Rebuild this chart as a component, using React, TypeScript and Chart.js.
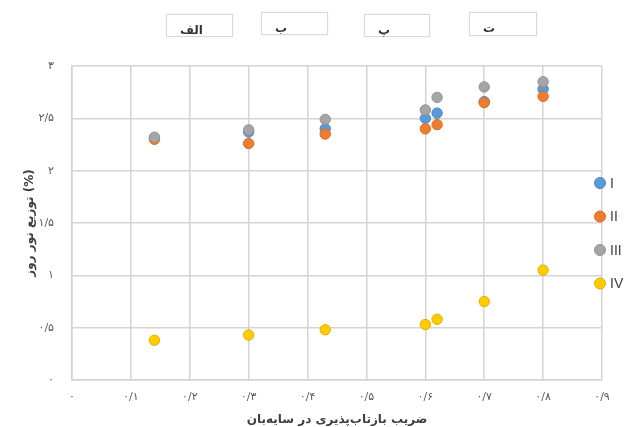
import React, { useEffect, useRef } from "react";
import { Chart, registerables } from "chart.js";

Chart.register(...registerables);

// ---- data ----
const xValues = [0.14, 0.3, 0.43, 0.6, 0.62, 0.7, 0.8];
const seriesI = [2.31, 2.37, 2.4, 2.5, 2.55, 2.66, 2.78];
const seriesII = [2.3, 2.26, 2.35, 2.4, 2.44, 2.65, 2.71];
const seriesIII = [2.32, 2.39, 2.49, 2.58, 2.7, 2.8, 2.85];
const seriesIV = [0.38, 0.43, 0.48, 0.53, 0.58, 0.75, 1.05];
const seriesNames = ["I", "II", "III", "IV"];

const xTickLabels = ["۰", "۰/۱", "۰/۲", "۰/۳", "۰/۴", "۰/۵", "۰/۶", "۰/۷", "۰/۸", "۰/۹"];
const yTickLabels = ["۰", "۰/۵", "۱", "۱/۵", "۲", "۲/۵", "۳"];
const xTitle = "ضریب بازتاب‌پذیری در سایه‌بان";
const yTitle = "توزیع نور روز (%)";
const panelLabels = ["الف", "ب", "پ", "ت"];

const fills = ["#5b9bd5", "#ed7d31", "#a5a5a5", "#ffcc00"];
const borders = ["#4a89c2", "#d96c22", "#939393", "#e3ad00"];

const panelBoxes = [
  { left: 166, top: 14, width: 67, height: 23 },
  { left: 261, top: 12, width: 67, height: 23 },
  { left: 364, top: 14, width: 66, height: 23 },
  { left: 469, top: 12, width: 68, height: 24 },
];

const legendPlugin = {
  id: "sideLegend",
  afterDraw(chart: any) {
    const { ctx, chartArea } = chart;
    const x = chartArea.right - 2;
    const y0 = chartArea.top + 117;
    const step = 33.5;
    ctx.save();
    chart.data.datasets.forEach((ds: any, i: number) => {
      const y = y0 + i * step;
      ctx.beginPath();
      ctx.arc(x, y, 5.5, 0, Math.PI * 2);
      ctx.fillStyle = ds.backgroundColor;
      ctx.fill();
      ctx.lineWidth = 1;
      ctx.strokeStyle = ds.borderColor;
      ctx.stroke();
      ctx.fillStyle = "#404040";
      ctx.font = "14px 'Liberation Sans', sans-serif";
      ctx.textAlign = "left";
      ctx.textBaseline = "middle";
      ctx.fillText(ds.label, x + 10, y + 1);
    });
    ctx.restore();
  },
};

export default function App() {
  const ref = useRef<HTMLCanvasElement | null>(null);

  useEffect(() => {
    document.body.style.margin = "0";
    const canvas = ref.current;
    if (!canvas) return;
    const all = [seriesI, seriesII, seriesIII, seriesIV];
    const chart = new Chart(canvas, {
      type: "scatter",
      data: {
        datasets: all.map((s, i) => ({
          label: seriesNames[i],
          data: s.map((v, j) => ({ x: xValues[j], y: v })),
          backgroundColor: fills[i],
          borderColor: borders[i],
          borderWidth: 1,
          pointRadius: 5.2,
          order: 4 - i,
        })),
      },
      options: {
        animation: false,
        responsive: false,
        devicePixelRatio: 1,
        layout: { padding: { left: 0, right: 25, top: 66, bottom: 0 } },
        plugins: {
          legend: { display: false },
          tooltip: { enabled: false },
        },
        scales: {
          x: {
            type: "linear",
            min: 0,
            max: 0.9,
            ticks: {
              stepSize: 0.1,
              padding: 11,
              color: "#595959",
              font: { family: "'DejaVu Sans', sans-serif", size: 11 },
              callback: (v: any) => xTickLabels[Math.round(Number(v) * 10)] ?? "",
            },
            grid: { color: "#d4d4d4", lineWidth: 1.5, drawTicks: false },
            border: { color: "#d4d4d4", width: 1.5 },
            title: {
              display: true,
              text: xTitle,
              color: "#404040",
              font: { family: "'DejaVu Sans', sans-serif", size: 12, weight: "bold" },
              padding: { top: 0, bottom: 0 },
            },
            afterFit: (scale: any) => {
              scale.height = 47;
            },
          },
          y: {
            type: "linear",
            min: 0,
            max: 3,
            ticks: {
              stepSize: 0.5,
              padding: 18,
              color: "#595959",
              font: { family: "'DejaVu Sans', sans-serif", size: 11 },
              callback: (v: any) => yTickLabels[Math.round(Number(v) * 2)] ?? "",
            },
            grid: { color: "#d4d4d4", lineWidth: 1.5, drawTicks: false },
            border: { color: "#d4d4d4", width: 1.5 },
            title: {
              display: true,
              text: yTitle,
              color: "#404040",
              font: { family: "'DejaVu Sans', sans-serif", size: 12, weight: "bold" },
              padding: { top: 23, bottom: 0 },
            },
            afterFit: (scale: any) => {
              scale.width = 72;
            },
          },
        },
      },
      plugins: [legendPlugin],
    } as any);
    return () => chart.destroy();
  }, []);

  return (
    <div style={{ position: "relative", width: 627, height: 427, background: "#fff" }}>
      <canvas ref={ref} width={627} height={427} style={{ display: "block" }} />
      {panelLabels.map((t, i) => (
        <div
          key={t}
          style={{
            position: "absolute",
            left: panelBoxes[i].left,
            top: panelBoxes[i].top,
            width: panelBoxes[i].width,
            height: panelBoxes[i].height,
            boxSizing: "border-box",
            border: "1px solid #d9d9d9",
            boxShadow: "0 0 2px rgba(0,0,0,0.08)",
            background: "#fff",
            direction: "ltr",
            textAlign: "left",
            paddingLeft: 13,
            paddingTop: 7,
            lineHeight: "16px",
            fontFamily: "'DejaVu Sans', sans-serif",
            fontWeight: "bold",
            fontSize: 12,
            color: "#333",
          }}
        >
          <span dir="rtl">{t}</span>
        </div>
      ))}
    </div>
  );
}
